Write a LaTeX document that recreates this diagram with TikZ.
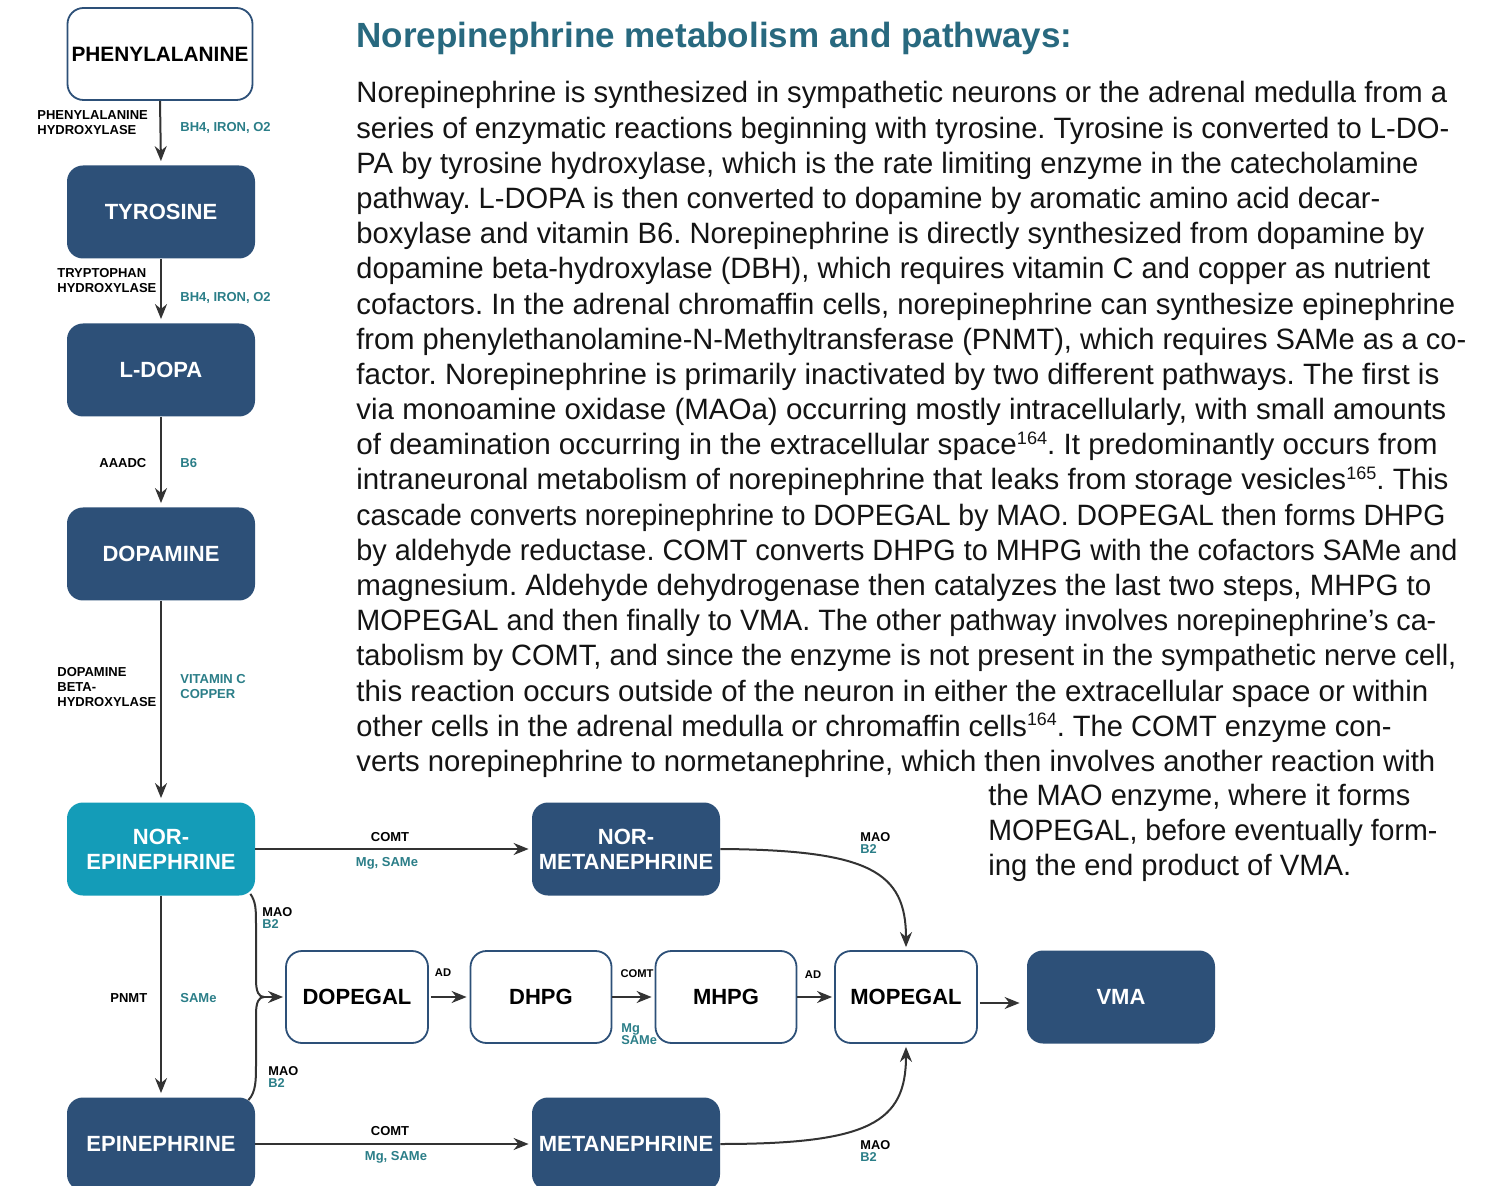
\documentclass[tikz,border=0pt]{standalone}
\usepackage{fontspec}
\setmainfont{Liberation Sans}
\usepackage{graphicx}
\usetikzlibrary{arrows.meta,calc}

\definecolor{navy}{HTML}{2D5078}
\definecolor{cyanbox}{HTML}{149CB8}
\definecolor{cofactor}{HTML}{2B7E88}
\definecolor{headblue}{HTML}{28697F}
\definecolor{arrowgray}{HTML}{333333}
\definecolor{bodyblack}{HTML}{141414}

% one line of the paragraph, stretched to a given right edge
\newcommand\bodyline[5]{%
  \node[bodytext] (#1) at (#2,#3)
    {\resizebox{\dimexpr(#4pt-#2pt)/2\relax}{\height}{#5}};}
% small raised reference number
\newcommand\refnum[1]{\raisebox{0.36em}{\fontsize{9}{9}\selectfont #1}}

\begin{document}
\begin{tikzpicture}[x=0.5pt,y=-0.5pt,
  fillbox/.style={rounded corners=8pt, fill=navy, draw=none, text=white,
    font=\bfseries\fontsize{11}{12.5}\selectfont, align=center,
    minimum width=94pt, minimum height=46.5pt, inner sep=1pt},
  hollowbox/.style={rounded corners=8pt, fill=white, draw=navy, line width=0.9pt,
    text=black, font=\bfseries\fontsize{11}{12.5}\selectfont, align=center,
    minimum width=71pt, minimum height=46pt, inner sep=1pt},
  enz/.style={font=\bfseries\fontsize{6.5}{7.5}\selectfont, align=left,
    inner sep=0pt, text=black},
  cof/.style={enz, text=cofactor},
  maob/.style={font=\bfseries\fontsize{6.4}{6}\selectfont, align=left,
    inner sep=0pt, text=black},
  tiny/.style={font=\bfseries\fontsize{5.6}{6.5}\selectfont, inner sep=0pt, text=black},
  flow/.style={draw=arrowgray, line width=1pt, -{Stealth[length=7.5pt,width=6pt]}},
  link/.style={draw=arrowgray, line width=1pt},
  bodytext/.style={anchor=base west, inner sep=0pt, text=bodyblack,
    font=\fontsize{14.7}{17}\selectfont\frenchspacing}]

\fill[white] (0,0) rectangle (1498,1186);
\useasboundingbox (0,0) rectangle (1498,1186);

% ---- synthesis column ----
\node[hollowbox, minimum width=92.5pt, font=\bfseries\fontsize{10.4}{12}\selectfont]
  (phe) at (160,54) {PHENYLALANINE};
\node[fillbox] (tyr) at (161,212) {TYROSINE};
\node[fillbox] (ldopa) at (161,370) {L-DOPA};
\node[fillbox] (dopa) at (161,554) {DOPAMINE};
\node[fillbox, fill=cyanbox] (nor) at (161,849) {NOR-\\EPINEPHRINE};
\node[fillbox] (epi) at (161,1144) {EPINEPHRINE};

\draw[flow, shorten >=2pt] (phe.south) -- (tyr.north);
\draw[flow, shorten >=2pt] (tyr.south) -- (ldopa.north);
\draw[flow, shorten >=2pt] (ldopa.south) -- (dopa.north);
\draw[flow, shorten >=2pt] (dopa.south) -- (nor.north);
\draw[flow, shorten >=2pt] (nor.south) -- (epi.north);

\node[enz, anchor=west] (phehyd) at (37,123) {PHENYLALANINE\\HYDROXYLASE};
\node[cof, anchor=west] (cofa) at (180,128) {BH4, IRON, O2};
\node[enz, anchor=west] (tryhyd) at (57,281) {TRYPTOPHAN\\HYDROXYLASE};
\node[cof, anchor=west] (cofb) at (180,298) {BH4, IRON, O2};
\node[enz, anchor=west] (aaadc) at (99,463) {AAADC};
\node[cof, anchor=west] (cofc) at (180,463) {B6};
\node[enz, anchor=west] (dbh) at (57,687) {DOPAMINE\\BETA-\\HYDROXYLASE};
\node[cof, anchor=west] (cofd) at (180,687) {VITAMIN C\\COPPER};
\node[enz, anchor=west] (pnmt) at (110,998) {PNMT};
\node[cof, anchor=west] (cofe) at (180,998) {SAMe};

% ---- breakdown ----
\node[fillbox] (normet) at (626,849) {NOR-\\METANEPHRINE};
\node[fillbox] (met) at (626,1144) {METANEPHRINE};
\node[hollowbox] (dopegal) at (357,997) {DOPEGAL};
\node[hollowbox, minimum width=70.5pt] (dhpg) at (541,997) {DHPG};
\node[hollowbox, minimum width=70.5pt] (mhpg) at (726,997) {MHPG};
\node[hollowbox] (mopegal) at (906,997) {MOPEGAL};
\node[fillbox] (vma) at (1121,997) {VMA};

\draw[flow, shorten >=1.5pt] (nor.east) -- (normet.west);
\node[enz, anchor=center] (comta) at (390,837) {COMT};
\node[cof, anchor=center] (mga) at (387,863) {Mg, SAMe};

\draw[flow, shorten >=1.5pt] (epi.east) -- (met.west);
\node[enz, anchor=center] (comtb) at (390,1131) {COMT};
\node[cof, anchor=center] (mgb) at (396,1157) {Mg, SAMe};

% MAO branches joining into DOPEGAL
\coordinate (join) at (264,997);
\coordinate (norout) at ($(nor.south east)+(-5,-2)$);
\coordinate (epiout) at ($(epi.north east)+(-7,3)$);
\draw[link] (norout) .. controls (256,902) and (256,910) .. (256,925)
  -- (256,980) .. controls (256,992) and (259,997) .. (join);
\draw[link] (epiout) .. controls (256,1092) and (256,1080) .. (256,1065)
  -- (256,1014) .. controls (256,1002) and (259,997) .. (join);
\draw[flow, shorten >=1pt] (join) -- (dopegal.west);
\node[maob, anchor=west] (maoa) at (262,918) {MAO\\\textcolor{cofactor}{B2}};
\node[maob, anchor=west] (maob) at (268,1077) {MAO\\\textcolor{cofactor}{B2}};

\draw[flow, shorten <=1pt, shorten >=1.5pt] (dopegal.east) -- (dhpg.west);
\node[tiny] (ada) at (443,973) {AD};
\draw[flow, shorten <=0pt, shorten >=1.5pt] (dhpg.east) -- (mhpg.west);
\node[tiny] (comtc) at (637,974) {COMT};
\node[maob, anchor=west, text=cofactor] (mgc) at (621,1034) {Mg\\SAMe};
\draw[flow, shorten <=0pt, shorten >=1pt] (mhpg.east) -- (mopegal.west);
\node[tiny] (adb) at (813,975) {AD};
\draw[flow, shorten <=1pt, shorten >=3.5pt]
  ([yshift=-3pt]mopegal.east) -- ([yshift=-3pt]vma.west);

\draw[flow, shorten >=1.5pt] (normet.east) .. controls (870,850) and (906,872) .. (mopegal.north);
\node[maob, anchor=west] (maoc) at (860,843) {MAO\\\textcolor{cofactor}{B2}};
\draw[flow, shorten >=1.5pt] (met.east) .. controls (870,1144) and (906,1122) .. (mopegal.south);
\node[maob, anchor=west] (maod) at (860,1151) {MAO\\\textcolor{cofactor}{B2}};

% ---- heading and paragraph ----
\node[anchor=base west, inner sep=0pt, text=headblue,
  font=\bfseries\fontsize{17.5}{20}\selectfont] (title) at (356,48)
  {\resizebox{358pt}{\height}{Norepinephrine metabolism and pathways:}};

\bodyline{la}{356}{103}{1447}{Norepinephrine is synthesized in sympathetic neurons or the adrenal medulla from a}
\bodyline{lb}{356}{138.2}{1449}{series of enzymatic reactions beginning with tyrosine. Tyrosine is converted to L-DO-}
\bodyline{lc}{356}{173.4}{1418}{PA by tyrosine hydroxylase, which is the rate limiting enzyme in the catecholamine}
\bodyline{ld}{356}{208.5}{1380}{pathway. L-DOPA is then converted to dopamine by aromatic amino acid decar-}
\bodyline{le}{356}{243.7}{1424}{boxylase and vitamin B6. Norepinephrine is directly synthesized from dopamine by}
\bodyline{lf}{356}{278.9}{1430}{dopamine beta-hydroxylase (DBH), which requires vitamin C and copper as nutrient}
\bodyline{lg}{356}{314.1}{1455}{cofactors. In the adrenal chromaffin cells, norepinephrine can synthesize epinephrine}
\bodyline{lh}{356}{349.3}{1466}{from phenylethanolamine-N-Methyltransferase (PNMT), which requires SAMe as a co-}
\bodyline{li}{356}{384.4}{1439}{factor. Norepinephrine is primarily inactivated by two different pathways. The first is}
\bodyline{lj}{356}{419.6}{1446}{via monoamine oxidase (MAOa) occurring mostly intracellularly, with small amounts}
\bodyline{lk}{356}{454.8}{1437}{of deamination occurring in the extracellular space\refnum{164}. It predominantly occurs from}
\bodyline{ll}{356}{490.0}{1448}{intraneuronal metabolism of norepinephrine that leaks from storage vesicles\refnum{165}. This}
\bodyline{lm}{356}{525.2}{1445}{cascade converts norepinephrine to DOPEGAL by MAO. DOPEGAL then forms DHPG}
\bodyline{ln}{356}{560.3}{1457}{by aldehyde reductase. COMT converts DHPG to MHPG with the cofactors SAMe and}
\bodyline{lo}{356}{595.5}{1431}{magnesium. Aldehyde dehydrogenase then catalyzes the last two steps, MHPG to}
\bodyline{lp}{356}{630.7}{1436}{MOPEGAL and then finally to VMA. The other pathway involves norepinephrine’s ca-}
\bodyline{lq}{356}{665.9}{1456}{tabolism by COMT, and since the enzyme is not present in the sympathetic nerve cell,}
\bodyline{lr}{356}{701.1}{1428}{this reaction occurs outside of the neuron in either the extracellular space or within}
\bodyline{ls}{356}{736.2}{1391}{other cells in the adrenal medulla or chromaffin cells\refnum{164}. The COMT enzyme con-}
\bodyline{lt}{356}{771.4}{1435}{verts norepinephrine to normetanephrine, which then involves another reaction with}
\bodyline{lu}{988}{805.5}{1410}{the MAO enzyme, where it forms}
\bodyline{lv}{988}{840.5}{1437}{MOPEGAL, before eventually form-}
\bodyline{lw}{988}{875.5}{1351}{ing the end product of VMA.}

\end{tikzpicture}
\end{document}
